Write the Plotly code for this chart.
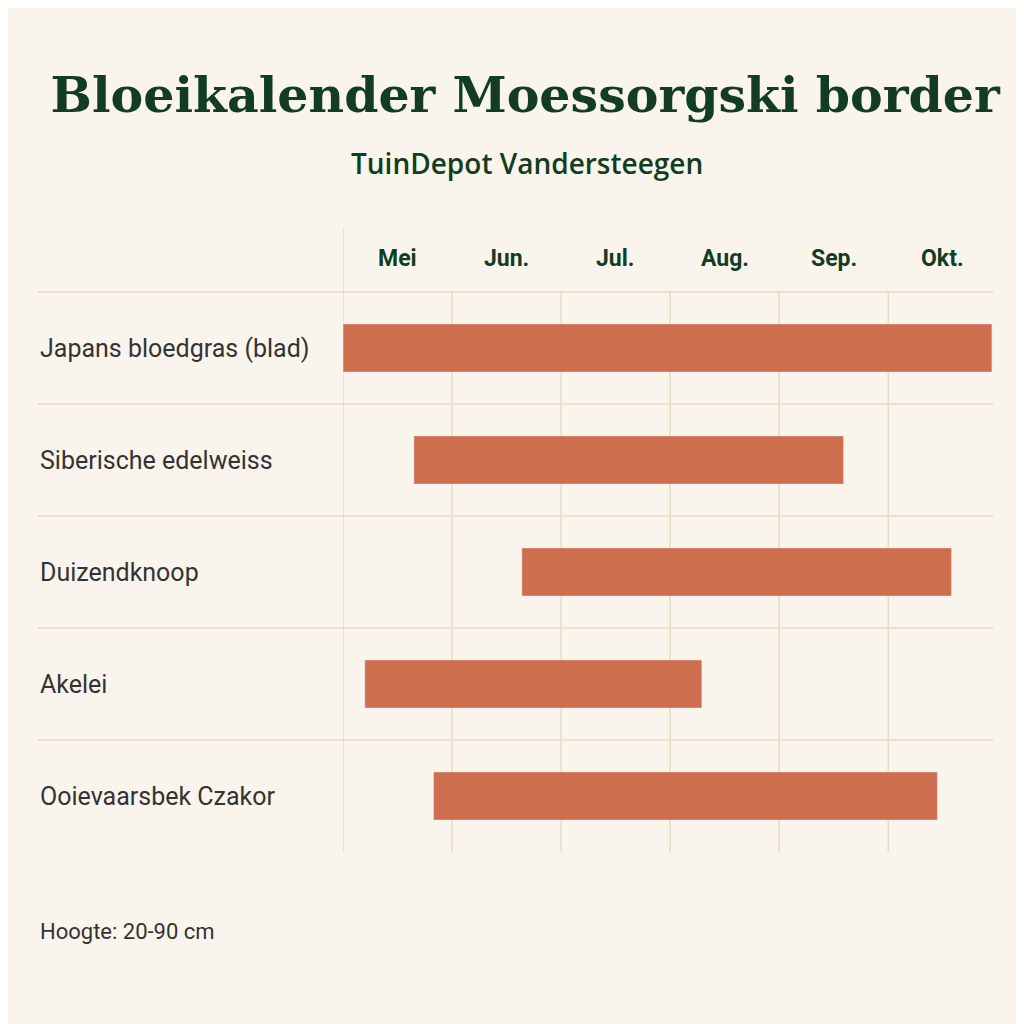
import plotly.graph_objects as go

plants = ['Japans bloedgras (blad)', 'Siberische edelweiss', 'Duizendknoop',
          'Akelei', 'Ooievaarsbek Czakor']
start = [0.0, 0.65, 1.64, 0.2, 0.83]   # in maanden vanaf begin mei
end = [5.95, 4.59, 5.58, 3.29, 5.45]
months = ['Mei', 'Jun.', 'Jul.', 'Aug.', 'Sep.', 'Okt.']

bg = '#faf5ec'
grid = '#ead9c0'
green = '#123d22'

yidx = list(range(len(plants)))
fig = go.Figure(go.Bar(
    y=yidx, x=[e - s for s, e in zip(start, end)], base=start,
    orientation='h', marker_color='#cd6e4f', width=0.43, hoverinfo='skip'
))

shapes = []
for i in range(6):
    shapes.append(dict(type='line', xref='x', yref='paper', x0=i, x1=i, layer='below',
                       y0=0, y1=1.114 if i == 0 else 1, line=dict(color=grid, width=1.5)))
for k in range(5):
    y = 1 - k / 5
    shapes.append(dict(type='line', xref='paper', yref='paper', x0=-0.47, x1=1.0, layer='below',
                       y0=y, y1=y, line=dict(color=grid, width=1.5)))

ann = []
for i, m in enumerate(months):
    ann.append(dict(x=i + 0.5, y=1.088, xref='x', yref='paper', text='<b>' + m + '</b>',
                    showarrow=False, font=dict(size=23, color=green, family='Roboto')))
for i, p in enumerate(plants):
    ann.append(dict(x=-0.47, y=i, xref='paper', yref='y', text=p, xanchor='left',
                    showarrow=False, font=dict(size=25, color='#333333', family='Roboto')))
ann.append(dict(x=-0.47, y=-0.167, xref='paper', yref='paper', text='Hoogte: 20-90 cm',
                xanchor='left', showarrow=False, font=dict(size=22, color='#333333', family='Roboto')))
ann.append(dict(x=0.283, y=1.267, xref='paper', yref='paper', text='TuinDepot Vandersteegen',
                xanchor='center', showarrow=False,
                font=dict(size=28, color=green, family='Open Sans', weight=600)))

fig.update_layout(
    width=1024, height=1024, paper_bgcolor=bg, plot_bgcolor=bg,
    margin=dict(l=335, r=39, t=284, b=180),
    title=dict(text='<b>Bloeikalender Moessorgski border</b>', x=0.505, xanchor='center',
               y=0.915, yanchor='middle', font=dict(size=49, color=green, family='DejaVu Serif')),
    xaxis=dict(range=[0, 5.96], showgrid=False, zeroline=False, showticklabels=False),
    yaxis=dict(range=[4.5, -0.5], showgrid=False, zeroline=False, showticklabels=False),
    shapes=shapes, annotations=ann, showlegend=False
)
fig.write_html('out.html')
